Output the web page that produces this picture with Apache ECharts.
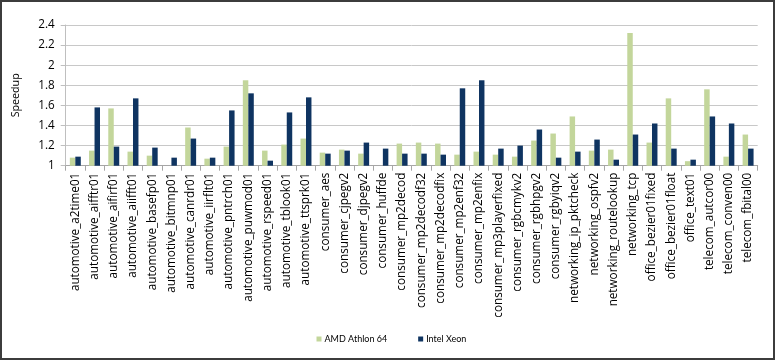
<!DOCTYPE html>
<html>
<head>
<meta charset="utf-8">
<script src="https://cdn.jsdelivr.net/npm/echarts@6/dist/echarts.min.js"></script>
<style>
html,body{margin:0;padding:0;background:#fff;}
#c{width:775px;height:360px;}
</style>
</head>
<body>
<div id="c"></div>
<script>
const categories = [
  "automotive_a2time01","automotive_aifftr01","automotive_aifirf01","automotive_aiifft01",
  "automotive_basefp01","automotive_bitmnp01","automotive_canrdr01","automotive_iirflt01",
  "automotive_pntrch01","automotive_puwmod01","automotive_rspeed01","automotive_tblook01",
  "automotive_ttsprk01","consumer_aes","consumer_cjpegv2","consumer_djpegv2",
  "consumer_huffde","consumer_mp2decod","consumer_mp2decodf32","consumer_mp2decodfix",
  "consumer_mp2enf32","consumer_mp2enfix","consumer_mp3playerfixed","consumer_rgbcmykv2",
  "consumer_rgbhpgv2","consumer_rgbyiqv2","networking_ip_pktcheck","networking_ospfv2",
  "networking_routelookup","networking_tcp","office_bezier01fixed","office_bezier01float",
  "office_text01","telecom_autcor00","telecom_conven00","telecom_fbital00"
];
const amdAthlon64 = [
  1.08,1.15,1.57,1.14,1.10,1.00,1.38,1.07,1.19,1.85,1.15,1.21,
  1.27,1.13,1.16,1.12,1.00,1.22,1.23,1.22,1.11,1.14,1.11,1.09,
  1.25,1.32,1.49,1.15,1.16,2.32,1.23,1.67,1.045,1.76,1.09,1.31
];
const intelXeon = [
  1.09,1.58,1.19,1.67,1.18,1.08,1.27,1.08,1.55,1.72,1.05,1.53,
  1.68,1.12,1.15,1.23,1.17,1.12,1.12,1.11,1.77,1.85,1.17,1.20,
  1.36,1.08,1.14,1.26,1.06,1.31,1.42,1.17,1.06,1.49,1.42,1.17
];
const yMin = 1, yMax = 2.4, yStep = 0.2;

const FONT = "'Open Sans', Lato, sans-serif";
const LFONT = "Lato, 'Open Sans', sans-serif";
const chart = echarts.init(document.getElementById('c'), null, {renderer:'canvas'});
chart.setOption({
  animation:false,
  backgroundColor:'#fff',
  textStyle:{fontFamily:FONT,color:'#000'},
  graphic:[{
    type:'rect', silent:true, z:100,
    shape:{x:1,y:1,width:773,height:358},
    style:{fill:'none',stroke:'#3c3c3c',lineWidth:2}
  }],
  legend:{
    top:334.5, left:316.5, padding:0,
    itemWidth:5, itemHeight:5, itemGap:31,
    icon:'rect',
    textStyle:{fontFamily:LFONT,fontSize:9,color:'#000',padding:[0,0,0,-2]},
    data:['AMD Athlon 64','Intel Xeon']
  },
  grid:{left:65.7,right:17.3,top:25,bottom:194.3,containLabel:false},
  xAxis:{
    type:'category', data:categories,
    axisLine:{lineStyle:{color:'#a6a6a6',width:1}},
    axisTick:{show:true,length:5,lineStyle:{color:'#a6a6a6'}},
    axisLabel:{rotate:90,interval:0,fontSize:11.7,color:'#000',margin:7,fontFamily:FONT},
    splitLine:{show:false}
  },
  yAxis:{
    type:'value', min:yMin, max:yMax, interval:yStep,
    name:'Speedup', nameLocation:'middle', nameGap:44, nameRotate:90,
    nameTextStyle:{fontSize:10.7,color:'#000',fontFamily:FONT},
    axisLine:{show:true,lineStyle:{color:'#bfbfbf'}},
    axisTick:{show:true,length:5,lineStyle:{color:'#bfbfbf'}},
    axisLabel:{fontSize:11.7,color:'#000',margin:11,fontFamily:FONT},
    splitLine:{lineStyle:{color:'#c8c8c8',width:1}}
  },
  series:[
    {name:'AMD Athlon 64',type:'bar',data:amdAthlon64,barGap:'0%',barCategoryGap:'43%',
     itemStyle:{color:'#c3d69b'}},
    {name:'Intel Xeon',type:'bar',data:intelXeon,barGap:'0%',barCategoryGap:'43%',
     itemStyle:{color:'#0f3461'}}
  ]
});
</script>
</body>
</html>
